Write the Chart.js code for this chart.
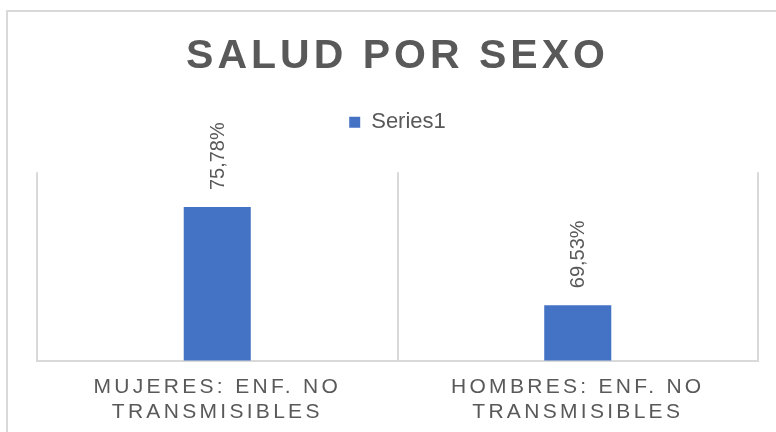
<!DOCTYPE html>
<html>
<head>
<meta charset="utf-8">
<script src="https://cdn.jsdelivr.net/npm/chart.js@4/dist/chart.umd.min.js"></script>
<style>
    html, body { margin: 0; padding: 0; background: #fff; overflow: hidden; }
    #frame { position: absolute; left: 6px; top: 10px; width: 900px; height: 600px; border: 2px solid #d9d9d9; }
    canvas { position: absolute; left: 0; top: 0; }
</style>
</head>
<body>
<div id="frame"></div>
<canvas id="chart" width="776" height="432"></canvas>
<script>
// chart data
const chartTitle = 'SALUD POR SEXO';
const seriesName = 'Series1';
const categories = [
    ['MUJERES: ENF. NO', 'TRANSMISIBLES'],
    ['HOMBRES: ENF. NO', 'TRANSMISIBLES']
];
const values = [75.78, 69.53];
const axisMin = 66;
const axisMax = 78;

const FONT = '"Liberation Sans", Arial, sans-serif';
const TEXT_GREY = '#595959';
const LINE_GREY = '#d9d9d9';
const BAR_BLUE = '#4472C4';

Chart.defaults.font.family = FONT;
Chart.defaults.color = TEXT_GREY;

const formatPct = v => v.toFixed(2).replace('.', ',') + '%';

// canvas letterSpacing only around the title and the category labels
function withSpacing(chart, obj, method, spacing) {
    if (!obj || obj['_spaced_' + method]) return;
    const orig = obj[method].bind(obj);
    obj[method] = function (...args) {
        const ctx = chart.ctx;
        const prev = ctx.letterSpacing;
        ctx.letterSpacing = spacing;
        orig(...args);
        ctx.letterSpacing = prev;
    };
    obj['_spaced_' + method] = true;
}

const spacingPlugin = {
    id: 'spacing',
    beforeDraw(chart) {
        withSpacing(chart, chart.titleBlock, 'draw', '4px');
        withSpacing(chart, chart.scales.x, 'drawLabels', '3.3px');
    }
};

// empty box between legend and plot area
const legendGap = {
    id: 'legendGap',
    beforeInit(chart) {
        const box = {
            position: 'top',
            weight: 500,
            fullSize: true,
            options: {},
            left: 0, top: 0, right: 0, bottom: 0, width: 0, height: 0,
            update(maxWidth) { this.width = maxWidth; this.height = 29; },
            isHorizontal() { return true; },
            draw() {}
        };
        Chart.layouts.addBox(chart, box);
    }
};

// rotated value labels above each bar
const barLabels = {
    id: 'barLabels',
    afterDatasetsDraw(chart) {
        const ctx = chart.ctx;
        const ds = chart.data.datasets[0];
        chart.getDatasetMeta(0).data.forEach((bar, i) => {
            ctx.save();
            ctx.translate(bar.x + 1, bar.y - 17);
            ctx.rotate(-Math.PI / 2);
            ctx.font = '20px ' + FONT;
            ctx.fillStyle = TEXT_GREY;
            ctx.textAlign = 'left';
            ctx.textBaseline = 'middle';
            ctx.fillText(formatPct(ds.data[i]), 0, 0);
            ctx.restore();
        });
    }
};

new Chart(document.getElementById('chart'), {
    type: 'bar',
    data: {
        labels: categories,
        datasets: [{
            label: seriesName,
            data: values,
            backgroundColor: BAR_BLUE,
            categoryPercentage: 1,
            barPercentage: 0.186
        }]
    },
    options: {
        responsive: false,
        animation: false,
        layout: { padding: { top: 0, left: 37, right: 18, bottom: -7 } },
        plugins: {
            title: {
                display: true,
                text: chartTitle,
                color: TEXT_GREY,
                font: { size: 41, weight: 'bold' },
                padding: { top: 32, bottom: 0 }
            },
            legend: {
                position: 'top',
                labels: {
                    boxWidth: 11,
                    boxHeight: 11,
                    padding: 30,
                    color: TEXT_GREY,
                    font: { size: 22 }
                }
            },
            tooltip: { enabled: false }
        },
        scales: {
            x: {
                offset: true,
                grid: { offset: true, color: LINE_GREY, lineWidth: 2, drawTicks: false },
                border: { display: true, color: LINE_GREY, width: 2 },
                ticks: {
                    color: TEXT_GREY,
                    font: { size: 21, lineHeight: 1.2 },
                    padding: 14,
                    maxRotation: 0,
                    autoSkip: false
                }
            },
            y: {
                display: false,
                min: axisMin,
                max: axisMax
            }
        }
    },
    plugins: [spacingPlugin, legendGap, barLabels]
});
</script>
</body>
</html>
